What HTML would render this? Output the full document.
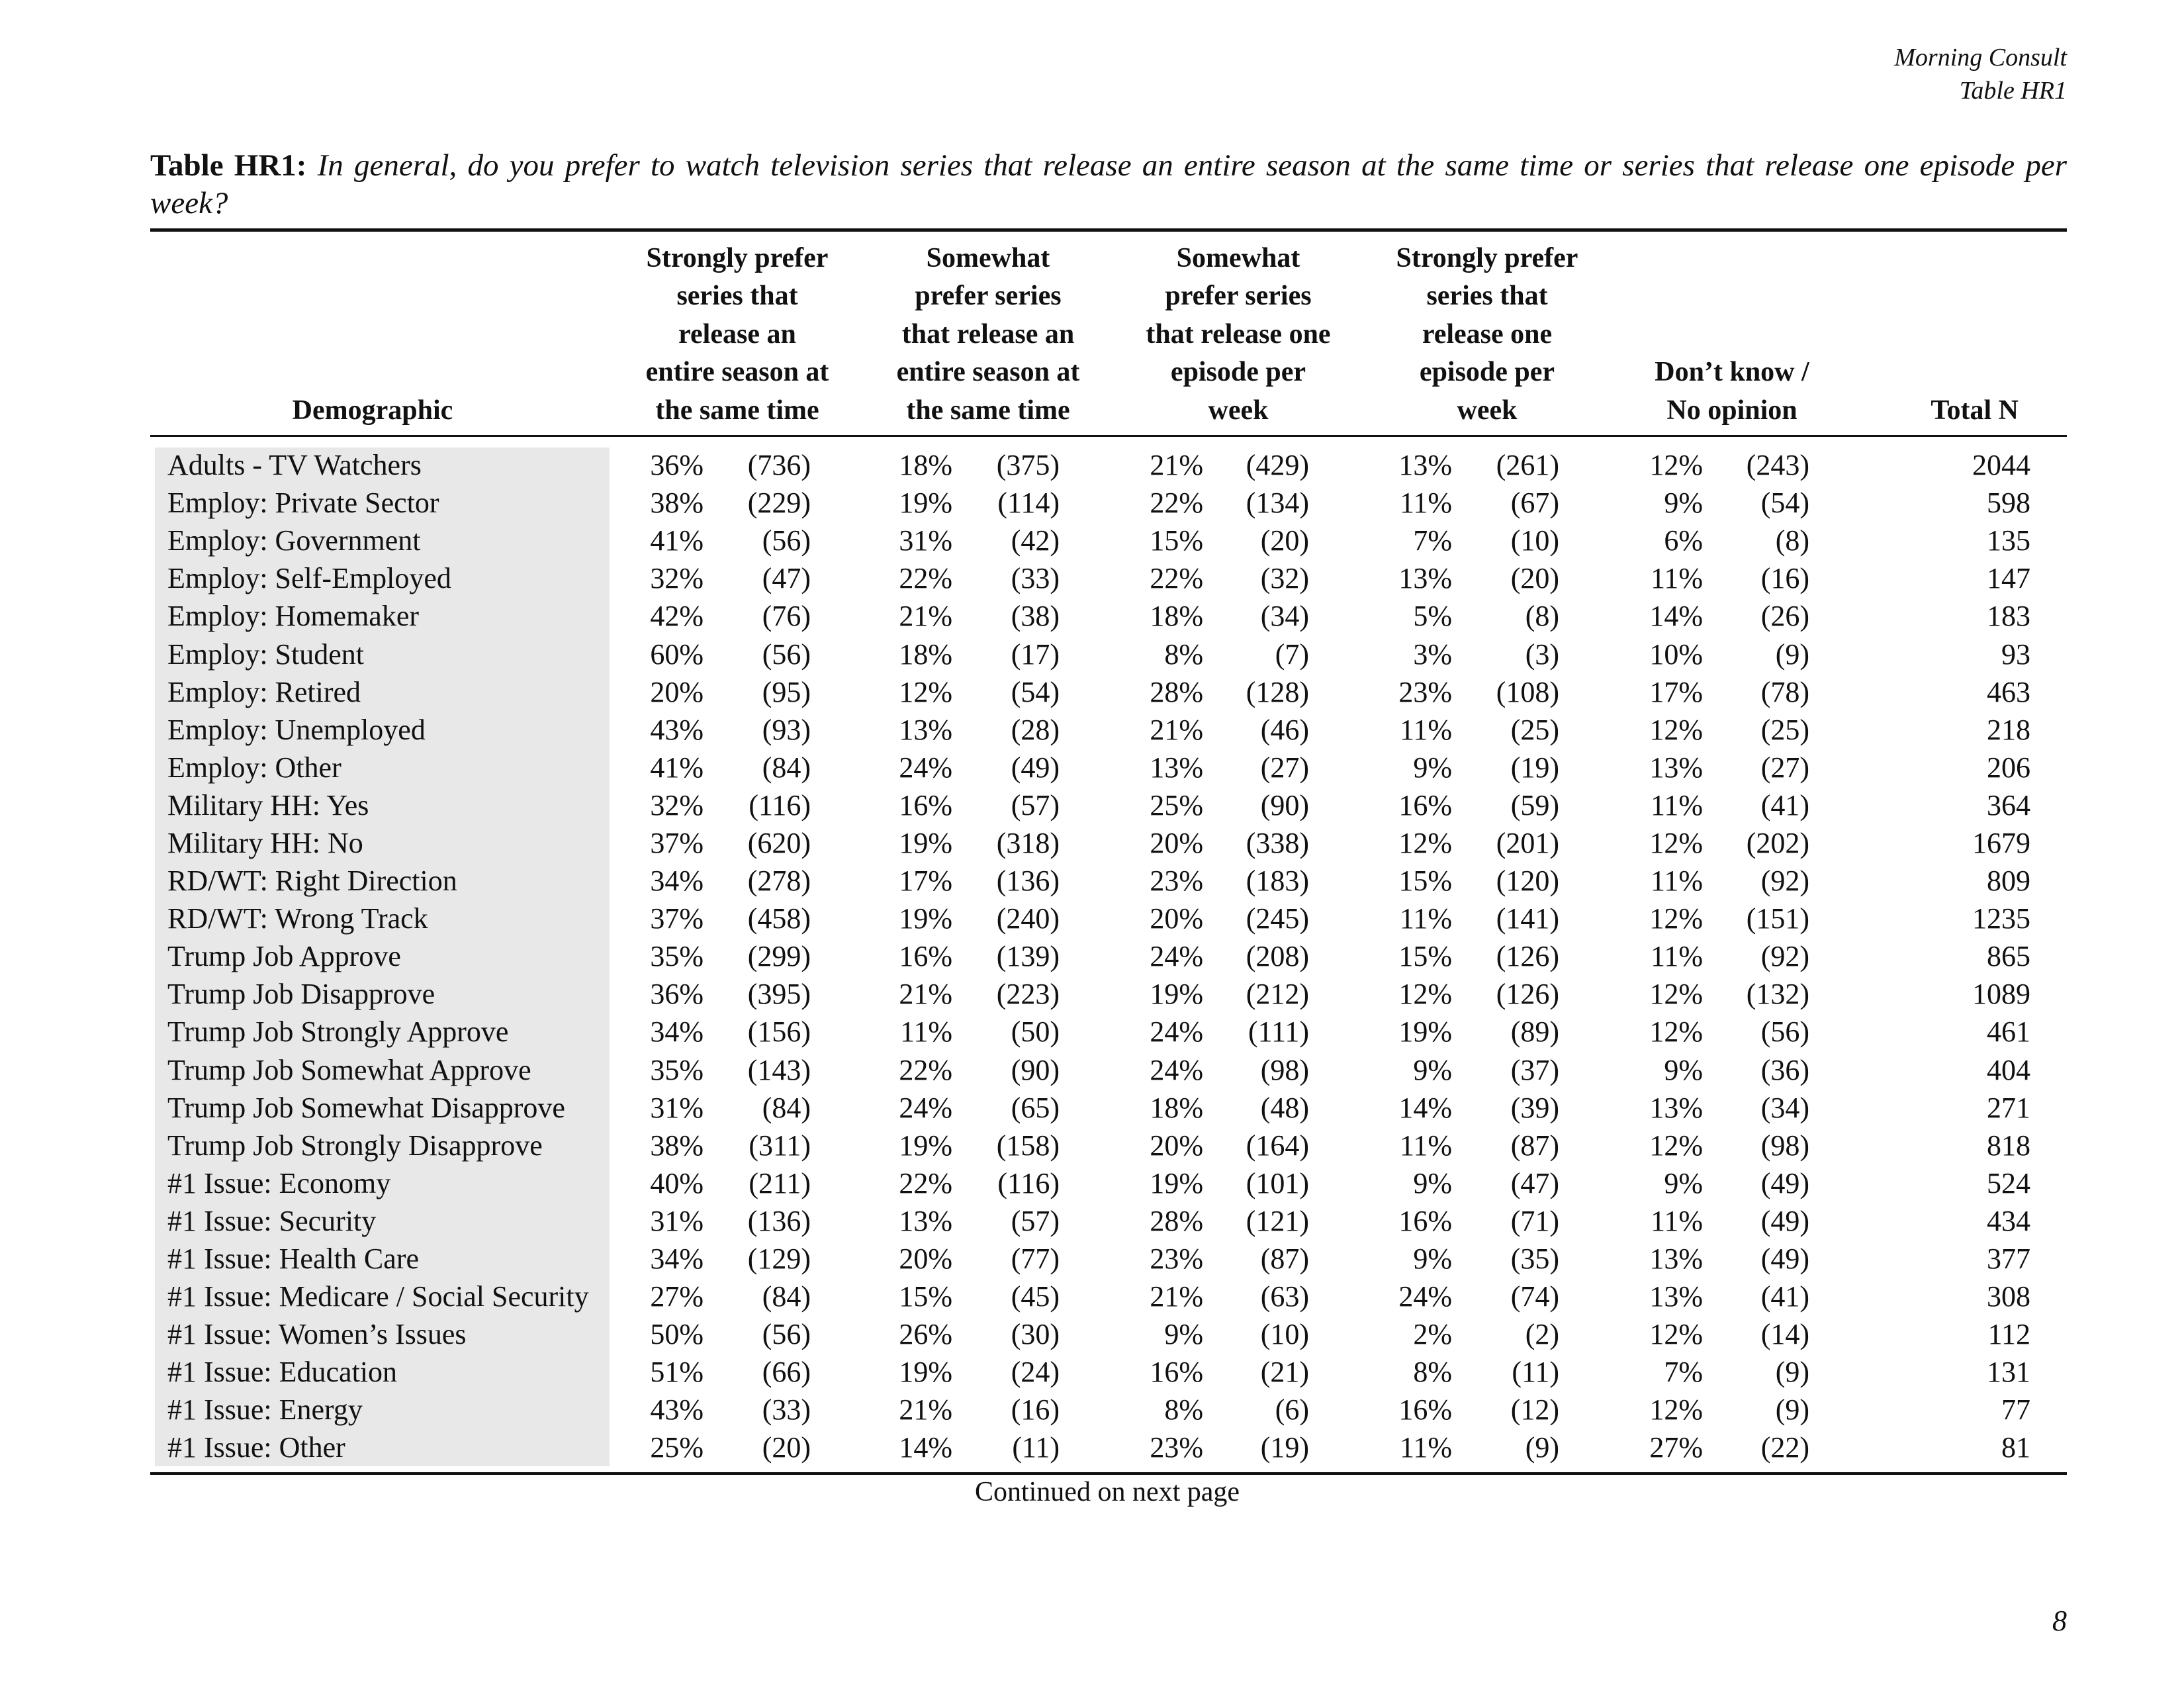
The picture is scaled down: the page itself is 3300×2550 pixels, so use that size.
<!DOCTYPE html>
<html><head><meta charset="utf-8"><style>
body{margin:0;width:3300px;height:2550px;background:#fff;position:relative;overflow:hidden;font-family:"Liberation Serif",serif;color:#111}
.a{position:absolute}
.hdr{position:absolute;bottom:1901px;font-weight:bold;font-size:42px;line-height:57.4px;text-align:center;white-space:nowrap}
.r{position:absolute;left:0;width:3300px;height:57px;font-size:44px;line-height:57px;white-space:nowrap}
.r span{position:absolute;top:0;text-align:right;width:240px}
.r .l{left:253px;text-align:left;width:700px}
.p1{left:823px}.n1{left:985px}
.p2{left:1199px}.n2{left:1361px}
.p3{left:1578px}.n3{left:1738px}
.p4{left:1954px}.n4{left:2116px}
.p5{left:2333px}.n5{left:2494px}
.t{left:2828px}
</style></head><body>
<div class="a" style="right:177px;top:62px;font-style:italic;font-size:38px;line-height:50px;text-align:right">Morning Consult<br>Table HR1</div>
<div class="a" style="left:227px;top:222px;width:2896px;font-size:47px;line-height:57px;text-align:justify;text-align-last:left"><b>Table HR1:</b> <i>In general, do you prefer to watch television series that release an entire season at the same time or series that release one episode per week?</i></div>
<div class="a" style="left:227px;top:345px;width:2896px;height:5px;background:#111"></div>
<div class="hdr" style="left:363px;width:400px">Demographic</div>
<div class="hdr" style="left:914px;width:400px">Strongly prefer<br>series that<br>release an<br>entire season at<br>the same time</div>
<div class="hdr" style="left:1293px;width:400px">Somewhat<br>prefer series<br>that release an<br>entire season at<br>the same time</div>
<div class="hdr" style="left:1671px;width:400px">Somewhat<br>prefer series<br>that release one<br>episode per<br>week</div>
<div class="hdr" style="left:2047px;width:400px">Strongly prefer<br>series that<br>release one<br>episode per<br>week</div>
<div class="hdr" style="left:2417px;width:400px">Don’t know /<br>No opinion</div>
<div class="hdr" style="left:2850px;width:200px;text-align:right">Total N</div>
<div class="a" style="left:227px;top:657px;width:2896px;height:3px;background:#111"></div>
<div class="a" style="left:234px;top:676px;width:687px;height:1539px;background:#e8e8e8"></div>

<div class="r" style="top:674px"><span class="l">Adults - TV Watchers</span><span class="p1">36%</span><span class="n1">(736)</span><span class="p2">18%</span><span class="n2">(375)</span><span class="p3">21%</span><span class="n3">(429)</span><span class="p4">13%</span><span class="n4">(261)</span><span class="p5">12%</span><span class="n5">(243)</span><span class="t">2044</span></div>
<div class="r" style="top:731px"><span class="l">Employ: Private Sector</span><span class="p1">38%</span><span class="n1">(229)</span><span class="p2">19%</span><span class="n2">(114)</span><span class="p3">22%</span><span class="n3">(134)</span><span class="p4">11%</span><span class="n4">(67)</span><span class="p5">9%</span><span class="n5">(54)</span><span class="t">598</span></div>
<div class="r" style="top:788px"><span class="l">Employ: Government</span><span class="p1">41%</span><span class="n1">(56)</span><span class="p2">31%</span><span class="n2">(42)</span><span class="p3">15%</span><span class="n3">(20)</span><span class="p4">7%</span><span class="n4">(10)</span><span class="p5">6%</span><span class="n5">(8)</span><span class="t">135</span></div>
<div class="r" style="top:845px"><span class="l">Employ: Self-Employed</span><span class="p1">32%</span><span class="n1">(47)</span><span class="p2">22%</span><span class="n2">(33)</span><span class="p3">22%</span><span class="n3">(32)</span><span class="p4">13%</span><span class="n4">(20)</span><span class="p5">11%</span><span class="n5">(16)</span><span class="t">147</span></div>
<div class="r" style="top:902px"><span class="l">Employ: Homemaker</span><span class="p1">42%</span><span class="n1">(76)</span><span class="p2">21%</span><span class="n2">(38)</span><span class="p3">18%</span><span class="n3">(34)</span><span class="p4">5%</span><span class="n4">(8)</span><span class="p5">14%</span><span class="n5">(26)</span><span class="t">183</span></div>
<div class="r" style="top:960px"><span class="l">Employ: Student</span><span class="p1">60%</span><span class="n1">(56)</span><span class="p2">18%</span><span class="n2">(17)</span><span class="p3">8%</span><span class="n3">(7)</span><span class="p4">3%</span><span class="n4">(3)</span><span class="p5">10%</span><span class="n5">(9)</span><span class="t">93</span></div>
<div class="r" style="top:1017px"><span class="l">Employ: Retired</span><span class="p1">20%</span><span class="n1">(95)</span><span class="p2">12%</span><span class="n2">(54)</span><span class="p3">28%</span><span class="n3">(128)</span><span class="p4">23%</span><span class="n4">(108)</span><span class="p5">17%</span><span class="n5">(78)</span><span class="t">463</span></div>
<div class="r" style="top:1074px"><span class="l">Employ: Unemployed</span><span class="p1">43%</span><span class="n1">(93)</span><span class="p2">13%</span><span class="n2">(28)</span><span class="p3">21%</span><span class="n3">(46)</span><span class="p4">11%</span><span class="n4">(25)</span><span class="p5">12%</span><span class="n5">(25)</span><span class="t">218</span></div>
<div class="r" style="top:1131px"><span class="l">Employ: Other</span><span class="p1">41%</span><span class="n1">(84)</span><span class="p2">24%</span><span class="n2">(49)</span><span class="p3">13%</span><span class="n3">(27)</span><span class="p4">9%</span><span class="n4">(19)</span><span class="p5">13%</span><span class="n5">(27)</span><span class="t">206</span></div>
<div class="r" style="top:1188px"><span class="l">Military HH: Yes</span><span class="p1">32%</span><span class="n1">(116)</span><span class="p2">16%</span><span class="n2">(57)</span><span class="p3">25%</span><span class="n3">(90)</span><span class="p4">16%</span><span class="n4">(59)</span><span class="p5">11%</span><span class="n5">(41)</span><span class="t">364</span></div>
<div class="r" style="top:1245px"><span class="l">Military HH: No</span><span class="p1">37%</span><span class="n1">(620)</span><span class="p2">19%</span><span class="n2">(318)</span><span class="p3">20%</span><span class="n3">(338)</span><span class="p4">12%</span><span class="n4">(201)</span><span class="p5">12%</span><span class="n5">(202)</span><span class="t">1679</span></div>
<div class="r" style="top:1302px"><span class="l">RD/WT: Right Direction</span><span class="p1">34%</span><span class="n1">(278)</span><span class="p2">17%</span><span class="n2">(136)</span><span class="p3">23%</span><span class="n3">(183)</span><span class="p4">15%</span><span class="n4">(120)</span><span class="p5">11%</span><span class="n5">(92)</span><span class="t">809</span></div>
<div class="r" style="top:1359px"><span class="l">RD/WT: Wrong Track</span><span class="p1">37%</span><span class="n1">(458)</span><span class="p2">19%</span><span class="n2">(240)</span><span class="p3">20%</span><span class="n3">(245)</span><span class="p4">11%</span><span class="n4">(141)</span><span class="p5">12%</span><span class="n5">(151)</span><span class="t">1235</span></div>
<div class="r" style="top:1416px"><span class="l">Trump Job Approve</span><span class="p1">35%</span><span class="n1">(299)</span><span class="p2">16%</span><span class="n2">(139)</span><span class="p3">24%</span><span class="n3">(208)</span><span class="p4">15%</span><span class="n4">(126)</span><span class="p5">11%</span><span class="n5">(92)</span><span class="t">865</span></div>
<div class="r" style="top:1473px"><span class="l">Trump Job Disapprove</span><span class="p1">36%</span><span class="n1">(395)</span><span class="p2">21%</span><span class="n2">(223)</span><span class="p3">19%</span><span class="n3">(212)</span><span class="p4">12%</span><span class="n4">(126)</span><span class="p5">12%</span><span class="n5">(132)</span><span class="t">1089</span></div>
<div class="r" style="top:1530px"><span class="l">Trump Job Strongly Approve</span><span class="p1">34%</span><span class="n1">(156)</span><span class="p2">11%</span><span class="n2">(50)</span><span class="p3">24%</span><span class="n3">(111)</span><span class="p4">19%</span><span class="n4">(89)</span><span class="p5">12%</span><span class="n5">(56)</span><span class="t">461</span></div>
<div class="r" style="top:1588px"><span class="l">Trump Job Somewhat Approve</span><span class="p1">35%</span><span class="n1">(143)</span><span class="p2">22%</span><span class="n2">(90)</span><span class="p3">24%</span><span class="n3">(98)</span><span class="p4">9%</span><span class="n4">(37)</span><span class="p5">9%</span><span class="n5">(36)</span><span class="t">404</span></div>
<div class="r" style="top:1645px"><span class="l">Trump Job Somewhat Disapprove</span><span class="p1">31%</span><span class="n1">(84)</span><span class="p2">24%</span><span class="n2">(65)</span><span class="p3">18%</span><span class="n3">(48)</span><span class="p4">14%</span><span class="n4">(39)</span><span class="p5">13%</span><span class="n5">(34)</span><span class="t">271</span></div>
<div class="r" style="top:1702px"><span class="l">Trump Job Strongly Disapprove</span><span class="p1">38%</span><span class="n1">(311)</span><span class="p2">19%</span><span class="n2">(158)</span><span class="p3">20%</span><span class="n3">(164)</span><span class="p4">11%</span><span class="n4">(87)</span><span class="p5">12%</span><span class="n5">(98)</span><span class="t">818</span></div>
<div class="r" style="top:1759px"><span class="l">#1 Issue: Economy</span><span class="p1">40%</span><span class="n1">(211)</span><span class="p2">22%</span><span class="n2">(116)</span><span class="p3">19%</span><span class="n3">(101)</span><span class="p4">9%</span><span class="n4">(47)</span><span class="p5">9%</span><span class="n5">(49)</span><span class="t">524</span></div>
<div class="r" style="top:1816px"><span class="l">#1 Issue: Security</span><span class="p1">31%</span><span class="n1">(136)</span><span class="p2">13%</span><span class="n2">(57)</span><span class="p3">28%</span><span class="n3">(121)</span><span class="p4">16%</span><span class="n4">(71)</span><span class="p5">11%</span><span class="n5">(49)</span><span class="t">434</span></div>
<div class="r" style="top:1873px"><span class="l">#1 Issue: Health Care</span><span class="p1">34%</span><span class="n1">(129)</span><span class="p2">20%</span><span class="n2">(77)</span><span class="p3">23%</span><span class="n3">(87)</span><span class="p4">9%</span><span class="n4">(35)</span><span class="p5">13%</span><span class="n5">(49)</span><span class="t">377</span></div>
<div class="r" style="top:1930px"><span class="l">#1 Issue: Medicare / Social Security</span><span class="p1">27%</span><span class="n1">(84)</span><span class="p2">15%</span><span class="n2">(45)</span><span class="p3">21%</span><span class="n3">(63)</span><span class="p4">24%</span><span class="n4">(74)</span><span class="p5">13%</span><span class="n5">(41)</span><span class="t">308</span></div>
<div class="r" style="top:1987px"><span class="l">#1 Issue: Women’s Issues</span><span class="p1">50%</span><span class="n1">(56)</span><span class="p2">26%</span><span class="n2">(30)</span><span class="p3">9%</span><span class="n3">(10)</span><span class="p4">2%</span><span class="n4">(2)</span><span class="p5">12%</span><span class="n5">(14)</span><span class="t">112</span></div>
<div class="r" style="top:2044px"><span class="l">#1 Issue: Education</span><span class="p1">51%</span><span class="n1">(66)</span><span class="p2">19%</span><span class="n2">(24)</span><span class="p3">16%</span><span class="n3">(21)</span><span class="p4">8%</span><span class="n4">(11)</span><span class="p5">7%</span><span class="n5">(9)</span><span class="t">131</span></div>
<div class="r" style="top:2101px"><span class="l">#1 Issue: Energy</span><span class="p1">43%</span><span class="n1">(33)</span><span class="p2">21%</span><span class="n2">(16)</span><span class="p3">8%</span><span class="n3">(6)</span><span class="p4">16%</span><span class="n4">(12)</span><span class="p5">12%</span><span class="n5">(9)</span><span class="t">77</span></div>
<div class="r" style="top:2158px"><span class="l">#1 Issue: Other</span><span class="p1">25%</span><span class="n1">(20)</span><span class="p2">14%</span><span class="n2">(11)</span><span class="p3">23%</span><span class="n3">(19)</span><span class="p4">11%</span><span class="n4">(9)</span><span class="p5">27%</span><span class="n5">(22)</span><span class="t">81</span></div>

<div class="a" style="left:227px;top:2224px;width:2896px;height:4px;background:#111"></div>
<div class="a" style="left:1373px;top:2226px;width:600px;text-align:center;font-size:42px;line-height:57px">Continued on next page</div>
<div class="a" style="right:177px;top:2420px;font-style:italic;font-size:44px;line-height:57px">8</div>
</body></html>
